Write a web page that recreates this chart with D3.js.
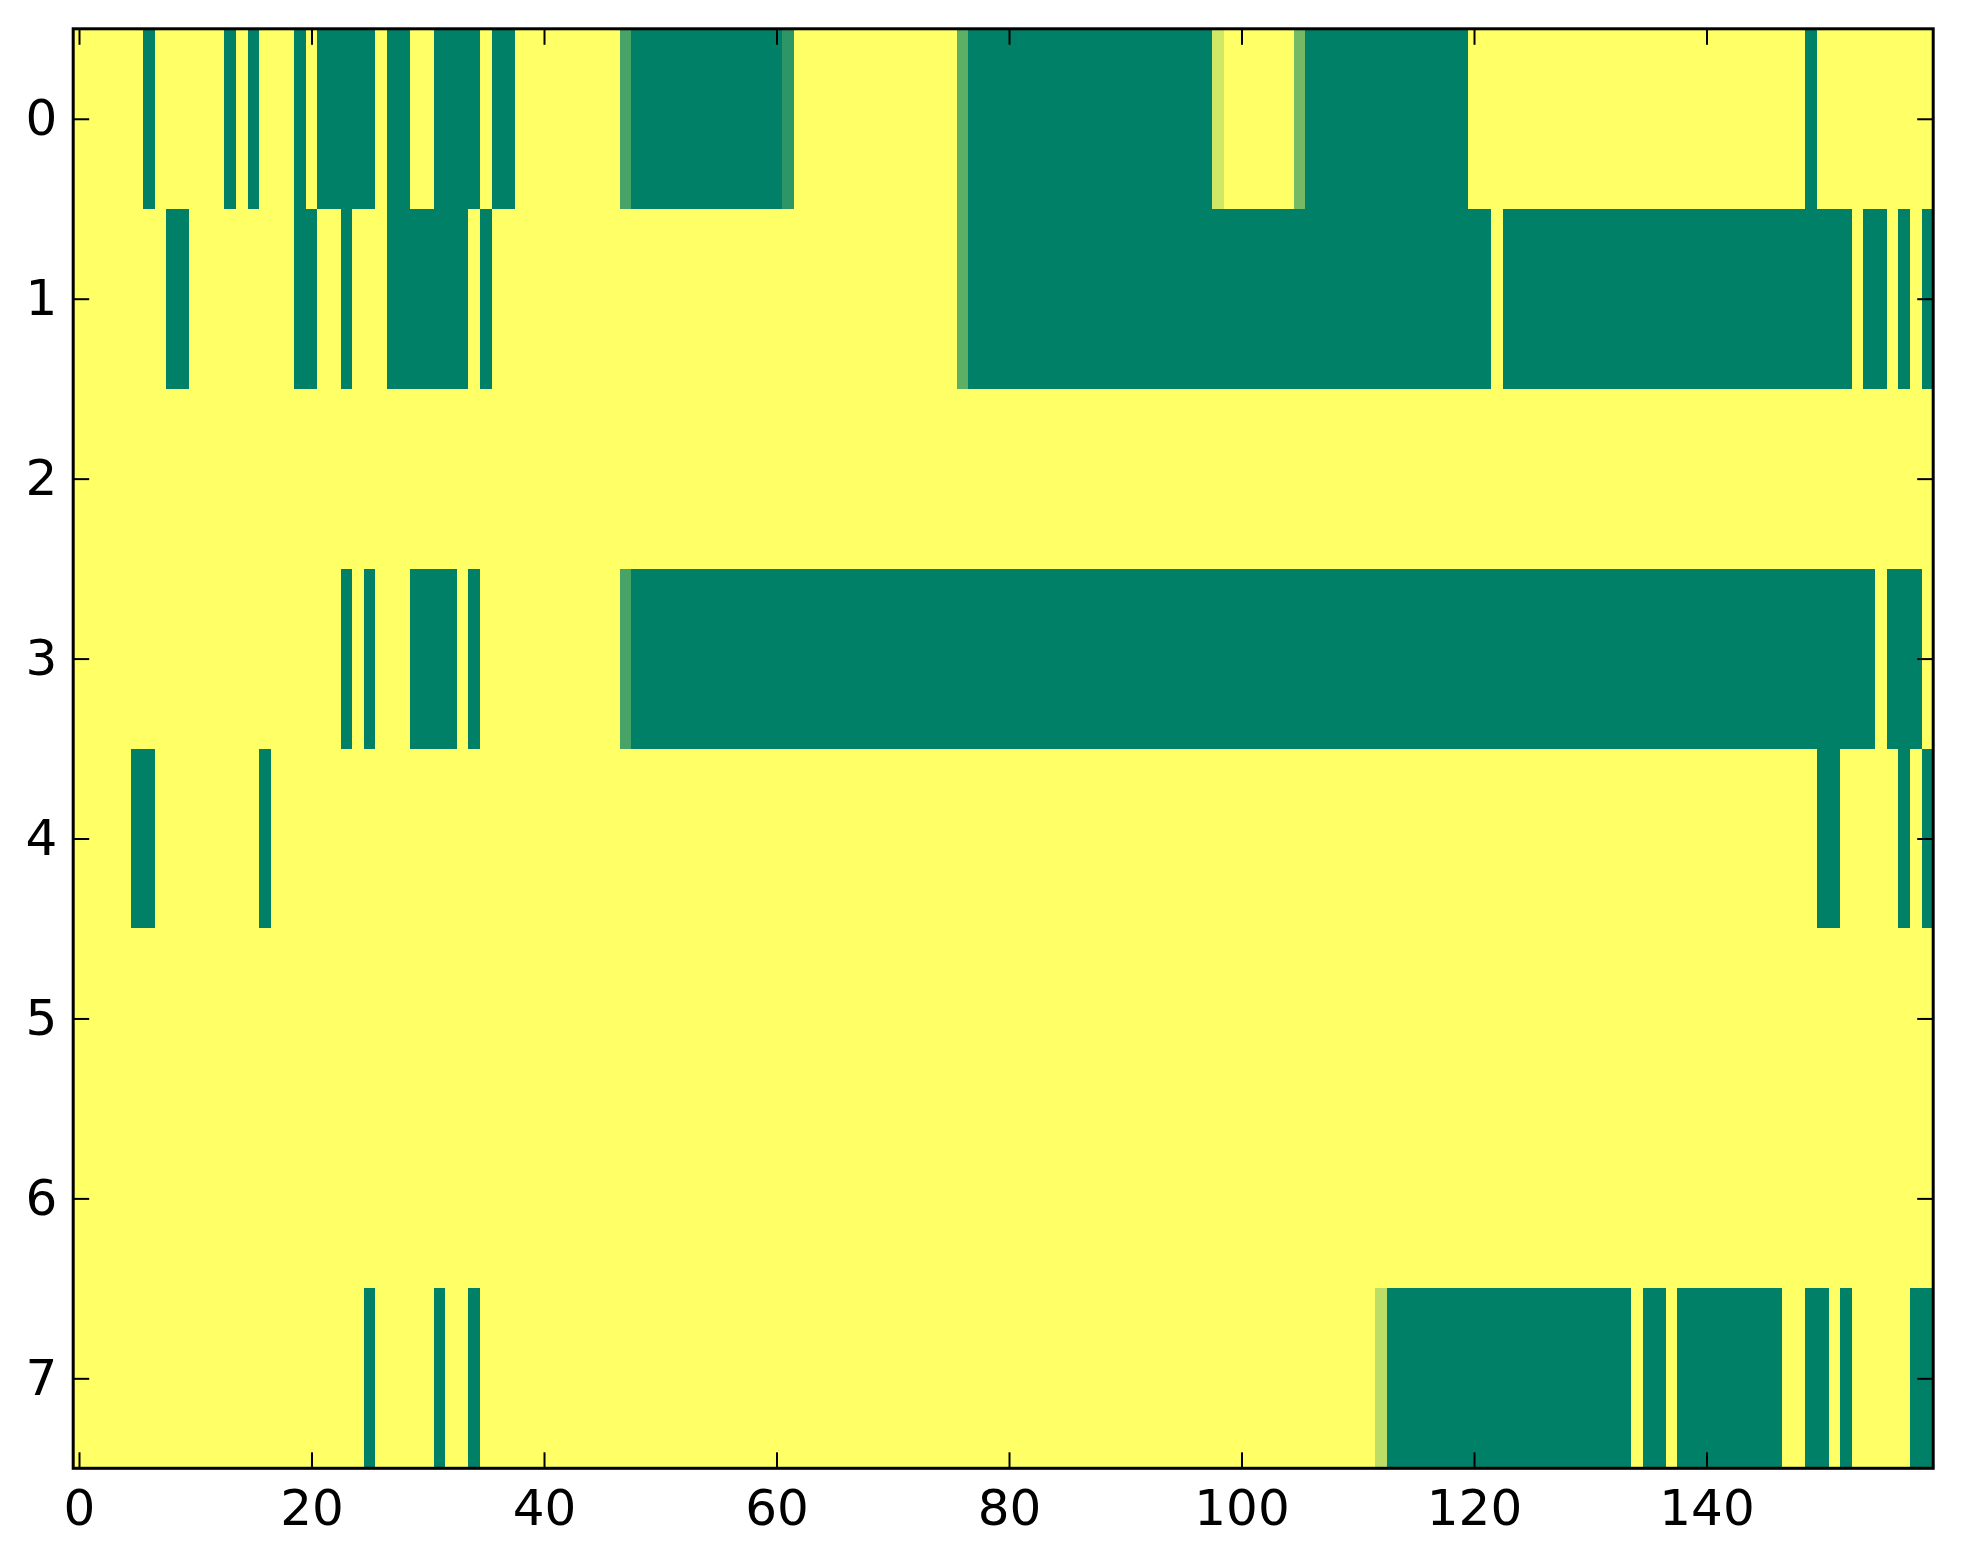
<!DOCTYPE html>
<html>
<head>
<meta charset="utf-8">
<script src="https://cdn.jsdelivr.net/npm/d3@7"></script>
<style>
  body { margin: 0; background: #fff; }
  svg text { font-family: "DejaVu Sans", sans-serif; }
</style>
</head>
<body>
<div id="chart"></div>
<script>
// one array per image row, 160 columns each (0 = yellow, 1 = dark green)
const row0 = [
  0,0,0,0,0,0,1,0,0,0, 0,0,0,1,0,1,0,0,0,1, 0,1,1,1,1,1,0,1,1,0, 0,1,1,1,1,0,1,1,0,0,
  0,0,0,0,0,0,0,0.72,1,1, 1,1,1,1,1,1,1,1,1,1, 1,0.82,0,0,0,0,0,0,0,0, 0,0,0,0,0,0,0.63,1,1,1,
  1,1,1,1,1,1,1,1,1,1, 1,1,1,1,1,1,1,1,0.18,0, 0,0,0,0,0,0.55,1,1,1,1, 1,1,1,1,1,1,1,1,1,1,
  0,0,0,0,0,0,0,0,0,0, 0,0,0,0,0,0,0,0,0,0, 0,0,0,0,0,0,0,0,0,1, 0,0,0,0,0,0,0,0,0,0
];
const row1 = [
  0,0,0,0,0,0,0,0,1,1, 0,0,0,0,0,0,0,0,0,1, 1,0,0,1,0,0,0,1,1,1, 1,1,1,1,0,1,0,0,0,0,
  0,0,0,0,0,0,0,0,0,0, 0,0,0,0,0,0,0,0,0,0, 0,0,0,0,0,0,0,0,0,0, 0,0,0,0,0,0,0.63,1,1,1,
  1,1,1,1,1,1,1,1,1,1, 1,1,1,1,1,1,1,1,1,1, 1,1,1,1,1,1,1,1,1,1, 1,1,1,1,1,1,1,1,1,1,
  1,1,0,1,1,1,1,1,1,1, 1,1,1,1,1,1,1,1,1,1, 1,1,1,1,1,1,1,1,1,1, 1,1,1,0,1,1,0,1,0,1
];
const row2 = [
  0,0,0,0,0,0,0,0,0,0, 0,0,0,0,0,0,0,0,0,0, 0,0,0,0,0,0,0,0,0,0, 0,0,0,0,0,0,0,0,0,0,
  0,0,0,0,0,0,0,0,0,0, 0,0,0,0,0,0,0,0,0,0, 0,0,0,0,0,0,0,0,0,0, 0,0,0,0,0,0,0,0,0,0,
  0,0,0,0,0,0,0,0,0,0, 0,0,0,0,0,0,0,0,0,0, 0,0,0,0,0,0,0,0,0,0, 0,0,0,0,0,0,0,0,0,0,
  0,0,0,0,0,0,0,0,0,0, 0,0,0,0,0,0,0,0,0,0, 0,0,0,0,0,0,0,0,0,0, 0,0,0,0,0,0,0,0,0,0
];
const row3 = [
  0,0,0,0,0,0,0,0,0,0, 0,0,0,0,0,0,0,0,0,0, 0,0,0,1,0,1,0,0,0,1, 1,1,1,0,1,0,0,0,0,0,
  0,0,0,0,0,0,0,0.72,1,1, 1,1,1,1,1,1,1,1,1,1, 1,1,1,1,1,1,1,1,1,1, 1,1,1,1,1,1,1,1,1,1,
  1,1,1,1,1,1,1,1,1,1, 1,1,1,1,1,1,1,1,1,1, 1,1,1,1,1,1,1,1,1,1, 1,1,1,1,1,1,1,1,1,1,
  1,1,1,1,1,1,1,1,1,1, 1,1,1,1,1,1,1,1,1,1, 1,1,1,1,1,1,1,1,1,1, 1,1,1,1,1,0,1,1,1,0
];
const row4 = [
  0,0,0,0,0,1,1,0,0,0, 0,0,0,0,0,0,1,0,0,0, 0,0,0,0,0,0,0,0,0,0, 0,0,0,0,0,0,0,0,0,0,
  0,0,0,0,0,0,0,0,0,0, 0,0,0,0,0,0,0,0,0,0, 0,0,0,0,0,0,0,0,0,0, 0,0,0,0,0,0,0,0,0,0,
  0,0,0,0,0,0,0,0,0,0, 0,0,0,0,0,0,0,0,0,0, 0,0,0,0,0,0,0,0,0,0, 0,0,0,0,0,0,0,0,0,0,
  0,0,0,0,0,0,0,0,0,0, 0,0,0,0,0,0,0,0,0,0, 0,0,0,0,0,0,0,0,0,0, 1,1,0,0,0,0,0,1,0,1
];
const row5 = row2.slice();
const row6 = row2.slice();
const row7 = [
  0,0,0,0,0,0,0,0,0,0, 0,0,0,0,0,0,0,0,0,0, 0,0,0,0,0,1,0,0,0,0, 0,1,0,0,1,0,0,0,0,0,
  0,0,0,0,0,0,0,0,0,0, 0,0,0,0,0,0,0,0,0,0, 0,0,0,0,0,0,0,0,0,0, 0,0,0,0,0,0,0,0,0,0,
  0,0,0,0,0,0,0,0,0,0, 0,0,0,0,0,0,0,0,0,0, 0,0,0,0,0,0,0,0,0,0, 0,0,0.26,1,1,1,1,1,1,1,
  1,1,1,1,1,1,1,1,1,1, 1,1,1,1,0,1,1,0,1,1, 1,1,1,1,1,1,1,0,0,1, 1,0,1,0,0,0,0,0,1,1
];
const rows = [row0, row1, row2, row3, row4, row5, row6, row7];

const xTicks = [0, 20, 40, 60, 80, 100, 120, 140];
const yTicks = [0, 1, 2, 3, 4, 5, 6, 7];

// summer_r colormap: 0 -> yellow, 1 -> dark green
function summerR(v) {
  const t = 1 - v;
  return d3.rgb(255 * t, 255 * (0.5 + 0.5 * t), 102).formatHex();
}

const width = 1963, height = 1564;
const plot = { left: 73.2, right: 1933.2, top: 28.8, bottom: 1468.3 };

const svg = d3.select("#chart")
  .append("svg")
  .attr("width", width)
  .attr("height", height);

const x = d3.scaleLinear().domain([-0.5, 159.5]).range([plot.left, plot.right]);
const y = d3.scaleLinear().domain([-0.5, 7.5]).range([plot.top, plot.bottom]);

// flatten into cells
const cells = [];
rows.forEach((r, i) => r.forEach((v, j) => cells.push({ row: i, col: j, v: v })));

svg.append("g")
  .selectAll("rect")
  .data(cells)
  .enter()
  .append("rect")
  .attr("x", (d) => x(d.col - 0.5))
  .attr("y", (d) => y(d.row - 0.5))
  .attr("width", (d) => x(d.col + 0.5) - x(d.col - 0.5) + 0.4)
  .attr("height", (d) => y(d.row + 0.5) - y(d.row - 0.5) + 0.4)
  .attr("fill", (d) => summerR(d.v))
  .attr("shape-rendering", "crispEdges");

const tickLen = 16;

function styleAxis(g, labels) {
  g.select(".domain").remove();
  g.selectAll(".tick line").attr("stroke", "#000").attr("stroke-width", 2);
  g.selectAll(".tick text")
    .attr("fill", "#000")
    .style("font-size", "50px")
    .style("font-family", "'DejaVu Sans', sans-serif");
  if (!labels) g.selectAll(".tick text").remove();
}

svg.append("g")
  .attr("transform", `translate(0,${plot.bottom})`)
  .call(d3.axisBottom(x).tickValues(xTicks).tickSizeInner(-tickLen).tickSizeOuter(0).tickPadding(21))
  .call((g) => styleAxis(g, true));

svg.append("g")
  .attr("transform", `translate(0,${plot.top})`)
  .call(d3.axisTop(x).tickValues(xTicks).tickSizeInner(-tickLen).tickSizeOuter(0))
  .call((g) => styleAxis(g, false));

svg.append("g")
  .attr("transform", `translate(${plot.left},0)`)
  .call(d3.axisLeft(y).tickValues(yTicks).tickSizeInner(-tickLen).tickSizeOuter(0).tickPadding(16))
  .call((g) => styleAxis(g, true));

svg.append("g")
  .attr("transform", `translate(${plot.right},0)`)
  .call(d3.axisRight(y).tickValues(yTicks).tickSizeInner(-tickLen).tickSizeOuter(0))
  .call((g) => styleAxis(g, false));

// frame
svg.append("rect")
  .attr("x", plot.left)
  .attr("y", plot.top)
  .attr("width", plot.right - plot.left)
  .attr("height", plot.bottom - plot.top)
  .attr("fill", "none")
  .attr("stroke", "#000")
  .attr("stroke-width", 3);
</script>
</body>
</html>
